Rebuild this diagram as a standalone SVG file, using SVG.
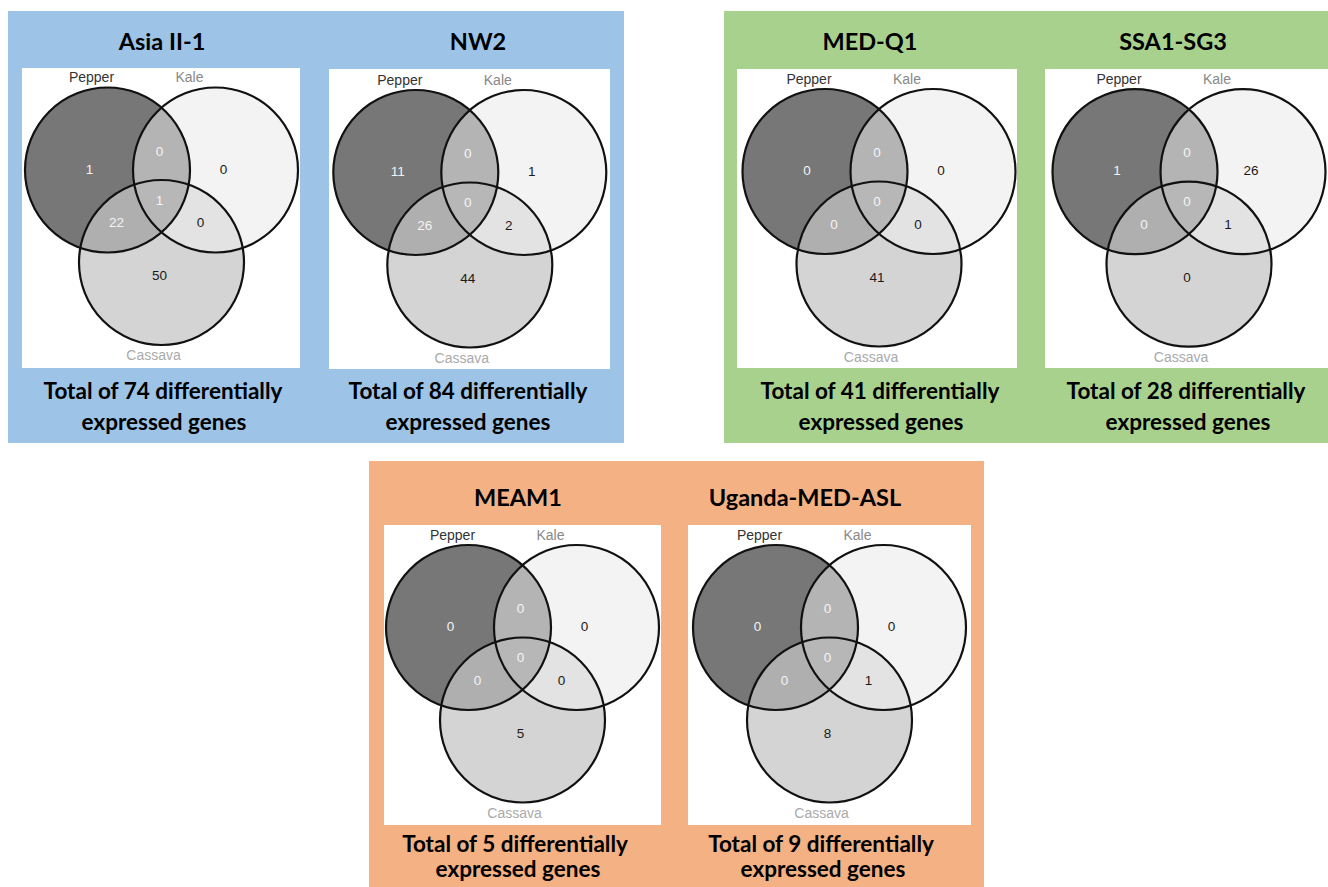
<svg xmlns="http://www.w3.org/2000/svg" xmlns:xlink="http://www.w3.org/1999/xlink" width="1328" height="887" viewBox="0 0 1328 887">
<style>
.title{font-family:Lato,"Open Sans","Liberation Sans",sans-serif;font-weight:bold;font-size:23.5px;fill:#000;text-anchor:middle}
.total{font-family:Lato,"Open Sans","Liberation Sans",sans-serif;font-weight:bold;font-size:22.5px;fill:#000;text-anchor:middle}
.lbl{font-family:"Liberation Sans",Arial,sans-serif;font-size:14px;text-anchor:middle}
.num{font-family:"Liberation Sans",Arial,sans-serif;font-size:13.5px;text-anchor:middle}
.nd{fill:#1a1a1a}
.nl{fill:#f4f4f4}
.box{fill:#fff}
.ring{fill:none;stroke:#111;stroke-width:2.2}
</style>
<defs>
<clipPath id="cK"><circle cx="194" cy="103" r="82.5"/></clipPath>
<clipPath id="cC"><circle cx="140" cy="195.5" r="82.5"/></clipPath>
<g id="venn">
<circle cx="194" cy="103" r="82.5" fill="#f3f3f3"/>
<circle cx="140" cy="195.5" r="82.5" fill="#d4d4d4"/>
<circle cx="86" cy="103" r="82.5" fill="#777777"/>
<g clip-path="url(#cC)"><circle cx="194" cy="103" r="82.5" fill="#e3e3e3"/></g>
<g clip-path="url(#cK)"><circle cx="86" cy="103" r="82.5" fill="#b4b4b4"/></g>
<g clip-path="url(#cC)"><circle cx="86" cy="103" r="82.5" fill="#afafaf"/></g>
<g clip-path="url(#cC)"><g clip-path="url(#cK)"><circle cx="86" cy="103" r="82.5" fill="#b7b7b7"/></g></g>
<circle class="ring" cx="86" cy="103" r="82.5"/>
<circle class="ring" cx="194" cy="103" r="82.5"/>
<circle class="ring" cx="140" cy="195.5" r="82.5"/>
</g>
</defs>

<g id="panel-blue"><rect x="8" y="11" width="616" height="432" fill="#9dc3e6"/></g>
<g id="panel-green"><rect x="724" y="11" width="604" height="432" fill="#a9d18e"/></g>
<g id="panel-orange"><rect x="369" y="461" width="615" height="426" fill="#f4b183"/></g>

<g id="asia-ii-1">
<text class="title" x="162" y="50">Asia II-1</text>
<rect class="box" x="22" y="68" width="278" height="300"/>
<use xlink:href="#venn" href="#venn" transform="translate(21.5,67)"/>
<g transform="translate(21.5,67)">
<text class="lbl" x="70" y="15" fill="#333">Pepper</text>
<text class="lbl" x="168" y="15" fill="#888">Kale</text>
<text class="lbl" x="132" y="293" fill="#aaa">Cassava</text>
<text class="num nl" x="68" y="106.5">1</text>
<text class="num nl" x="138" y="88.5">0</text>
<text class="num nd" x="202" y="106.5">0</text>
<text class="num nl" x="138" y="137.5">1</text>
<text class="num nl" x="95" y="160">22</text>
<text class="num nd" x="179" y="160">0</text>
<text class="num nd" x="138" y="213">50</text>
</g>
<text class="total" x="163" y="399">Total of 74 differentially</text>
<text class="total" x="164" y="430">expressed genes</text>
</g>

<g id="nw2">
<text class="title" x="478" y="50">NW2</text>
<rect class="box" x="329" y="69" width="281" height="300"/>
<use xlink:href="#venn" href="#venn" transform="translate(329.8,69.5)"/>
<g transform="translate(329.8,69.5)">
<text class="lbl" x="70" y="15" fill="#333">Pepper</text>
<text class="lbl" x="168" y="15" fill="#888">Kale</text>
<text class="lbl" x="132" y="293" fill="#aaa">Cassava</text>
<text class="num nl" x="68" y="106.5">11</text>
<text class="num nl" x="138" y="88.5">0</text>
<text class="num nd" x="202" y="106.5">1</text>
<text class="num nl" x="138" y="137.5">0</text>
<text class="num nl" x="95" y="160">26</text>
<text class="num nd" x="179" y="160">2</text>
<text class="num nd" x="138" y="213">44</text>
</g>
<text class="total" x="468" y="399">Total of 84 differentially</text>
<text class="total" x="468" y="430">expressed genes</text>
</g>

<g id="med-q1">
<text class="title" x="870" y="50">MED-Q1</text>
<rect class="box" x="737" y="69" width="280" height="299"/>
<use xlink:href="#venn" href="#venn" transform="translate(739,68.5)"/>
<g transform="translate(739,68.5)">
<text class="lbl" x="70" y="15" fill="#333">Pepper</text>
<text class="lbl" x="168" y="15" fill="#888">Kale</text>
<text class="lbl" x="132" y="293" fill="#aaa">Cassava</text>
<text class="num nl" x="68" y="106.5">0</text>
<text class="num nl" x="138" y="88.5">0</text>
<text class="num nd" x="202" y="106.5">0</text>
<text class="num nl" x="138" y="137.5">0</text>
<text class="num nl" x="95" y="160">0</text>
<text class="num nd" x="179" y="160">0</text>
<text class="num nd" x="138" y="213">41</text>
</g>
<text class="total" x="880" y="399">Total of 41 differentially</text>
<text class="total" x="881" y="430">expressed genes</text>
</g>

<g id="ssa1-sg3">
<text class="title" x="1173" y="50">SSA1-SG3</text>
<rect class="box" x="1045" y="69" width="283" height="299"/>
<use xlink:href="#venn" href="#venn" transform="translate(1049,68.7)"/>
<g transform="translate(1049,68.7)">
<text class="lbl" x="70" y="15" fill="#333">Pepper</text>
<text class="lbl" x="168" y="15" fill="#888">Kale</text>
<text class="lbl" x="132" y="293" fill="#aaa">Cassava</text>
<text class="num nl" x="68" y="106.5">1</text>
<text class="num nl" x="138" y="88.5">0</text>
<text class="num nd" x="202" y="106.5">26</text>
<text class="num nl" x="138" y="137.5">0</text>
<text class="num nl" x="95" y="160">0</text>
<text class="num nd" x="179" y="160">1</text>
<text class="num nd" x="138" y="213">0</text>
</g>
<text class="total" x="1186" y="399">Total of 28 differentially</text>
<text class="total" x="1188" y="430">expressed genes</text>
</g>

<g id="meam1">
<text class="title" x="518" y="506">MEAM1</text>
<rect class="box" x="384" y="525" width="277" height="300"/>
<use xlink:href="#venn" href="#venn" transform="translate(382.5,524.5)"/>
<g transform="translate(382.5,524.5)">
<text class="lbl" x="70" y="15" fill="#333">Pepper</text>
<text class="lbl" x="168" y="15" fill="#888">Kale</text>
<text class="lbl" x="132" y="293" fill="#aaa">Cassava</text>
<text class="num nl" x="68" y="106.5">0</text>
<text class="num nl" x="138" y="88.5">0</text>
<text class="num nd" x="202" y="106.5">0</text>
<text class="num nl" x="138" y="137.5">0</text>
<text class="num nl" x="95" y="160">0</text>
<text class="num nd" x="179" y="160">0</text>
<text class="num nd" x="138" y="213">5</text>
</g>
<text class="total" x="515" y="852">Total of 5 differentially</text>
<text class="total" x="518" y="877">expressed genes</text>
</g>

<g id="uganda-med-asl">
<text class="title" x="805" y="506">Uganda-MED-ASL</text>
<rect class="box" x="688" y="525" width="283" height="300"/>
<use xlink:href="#venn" href="#venn" transform="translate(689.5,524.5)"/>
<g transform="translate(689.5,524.5)">
<text class="lbl" x="70" y="15" fill="#333">Pepper</text>
<text class="lbl" x="168" y="15" fill="#888">Kale</text>
<text class="lbl" x="132" y="293" fill="#aaa">Cassava</text>
<text class="num nl" x="68" y="106.5">0</text>
<text class="num nl" x="138" y="88.5">0</text>
<text class="num nd" x="202" y="106.5">0</text>
<text class="num nl" x="138" y="137.5">0</text>
<text class="num nl" x="95" y="160">0</text>
<text class="num nd" x="179" y="160">1</text>
<text class="num nd" x="138" y="213">8</text>
</g>
<text class="total" x="821" y="852">Total of 9 differentially</text>
<text class="total" x="823" y="877">expressed genes</text>
</g>
</svg>
